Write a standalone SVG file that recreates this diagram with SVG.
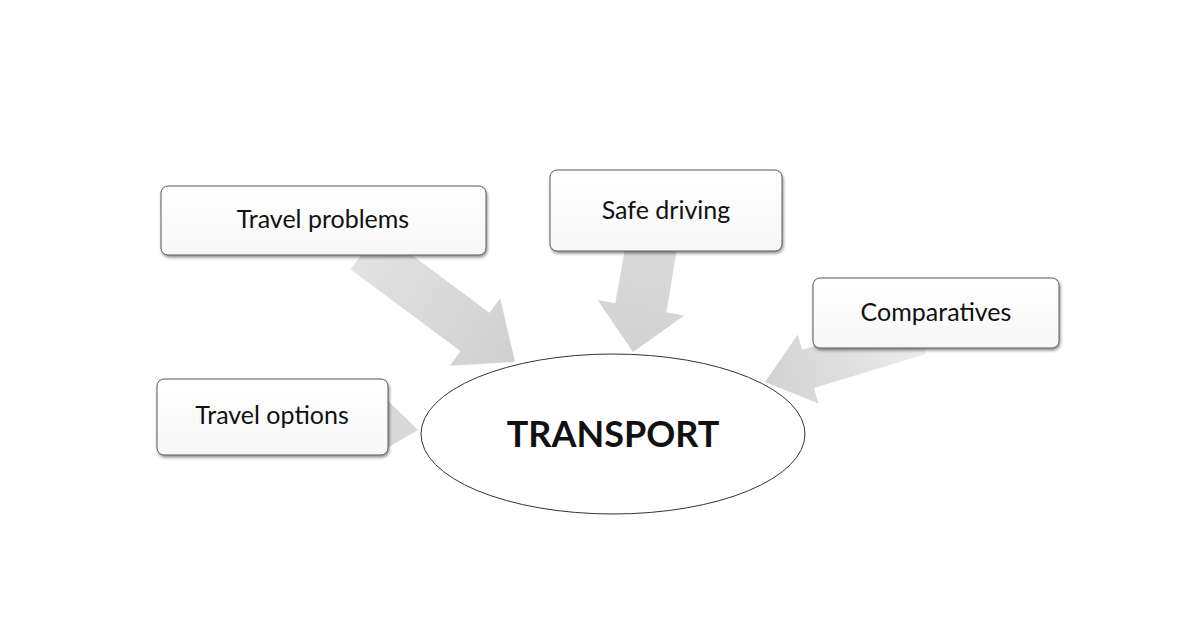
<svg xmlns="http://www.w3.org/2000/svg" width="1200" height="630" viewBox="0 0 1200 630">
<style>
.box{fill:url(#bg);stroke:#5a5a5a;stroke-width:1;filter:url(#sh)}
.t{font-family:Lato,"Open Sans",sans-serif;font-size:25px;fill:#111;text-anchor:middle}
</style>
<defs>
<linearGradient id="bg" x1="0" y1="0" x2="0" y2="1"><stop offset="0" stop-color="#ffffff"/><stop offset="1" stop-color="#f7f7f7"/></linearGradient>
<linearGradient id="a1" gradientUnits="userSpaceOnUse" x1="365" y1="250" x2="515" y2="362"><stop offset="0" stop-color="#e2e2e2"/><stop offset="1" stop-color="#d0d0d0"/></linearGradient>
<linearGradient id="a2" gradientUnits="userSpaceOnUse" x1="652" y1="245" x2="633" y2="352"><stop offset="0" stop-color="#dadada"/><stop offset="1" stop-color="#d2d2d2"/></linearGradient>
<linearGradient id="a3" gradientUnits="userSpaceOnUse" x1="920" y1="335" x2="765" y2="382"><stop offset="0" stop-color="#ececec"/><stop offset="1" stop-color="#d2d2d2"/></linearGradient>
<filter id="sh" x="-10%" y="-10%" width="120%" height="130%"><feDropShadow dx="1" dy="2" stdDeviation="1.5" flood-color="#000" flood-opacity="0.45"/></filter>
</defs>
<rect width="1200" height="630" fill="#fff"/>
<g id="connectors">
<polygon fill="url(#a1)" points="350.6,269.2 460.6,351.2 449.8,365.7 515,362 500.2,298.3 489.4,312.8 379.4,230.8"/>
<polygon fill="url(#a2)" points="626.4,240.5 615.3,303.2 597.6,300 633,352 684.2,315.4 666.5,312.2 677.6,244.5"/>
<polygon fill="url(#a3)" points="914.2,315.9 802.3,349.8 797.7,334.5 765,382 818.5,403.4 813.9,388 925.8,354.1"/>
<polygon fill="#d8d8d8" points="380,393 418,430 380,452"/>
</g>
<g id="transport">
<ellipse cx="613" cy="434" rx="192" ry="80" fill="#fff" stroke="#333" stroke-width="1"/>
<text x="613" y="447" font-family="Lato,'Open Sans',sans-serif" font-size="36" font-weight="bold" text-anchor="middle" fill="#111">TRANSPORT</text>
</g>
<g id="travel-problems"><rect class="box" x="161" y="186" width="325" height="69" rx="7"/><text class="t" x="323" y="228">Travel problems</text></g>
<g id="safe-driving"><rect class="box" x="550" y="170" width="232" height="81" rx="7"/><text class="t" x="666" y="219">Safe driving</text></g>
<g id="comparatives"><rect class="box" x="813" y="278" width="246" height="70" rx="7"/><text class="t" x="936" y="321">Comparatives</text></g>
<g id="travel-options"><rect class="box" x="157" y="379" width="231" height="76" rx="7"/><text class="t" x="272" y="424">Travel options</text></g>
</svg>
